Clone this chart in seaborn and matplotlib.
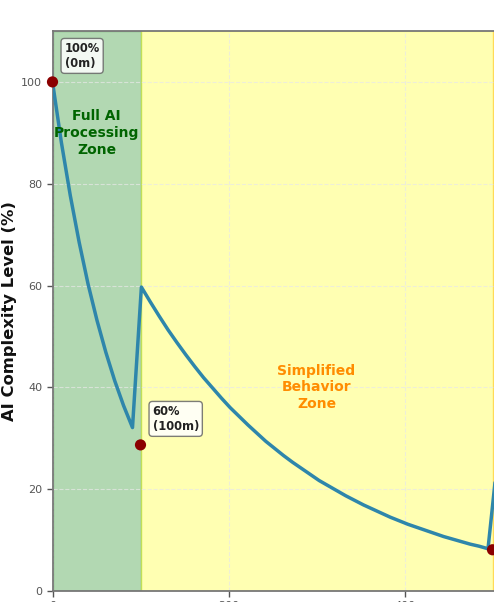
import matplotlib
matplotlib.use("Agg")
import matplotlib.pyplot as plt
import seaborn as sns
import pandas as pd

# ---- data ----
distance_m = [0.0, 10.1, 20.2, 30.3, 40.4, 50.5, 60.6, 70.7, 80.8, 90.9,
              101.0, 111.1, 121.2, 131.3, 141.4, 151.5, 161.6, 171.7, 181.8, 191.9,
              202.0, 212.1, 222.2, 232.3, 242.4, 252.5, 262.6, 272.7, 282.8, 292.9,
              303.0, 313.1, 323.2, 333.3, 343.4, 353.5, 363.6, 373.7, 383.8, 393.9,
              404.0, 414.1, 424.2, 434.3, 444.4, 454.5, 464.6, 474.7, 484.8, 494.9,
              505.1]
complexity_pct = [100.0, 88.1, 77.7, 68.5, 60.3, 53.2, 46.9, 41.3, 36.4, 32.1,
                  59.7, 56.8, 54.0, 51.3, 48.8, 46.4, 44.1, 41.9, 39.9, 37.9,
                  36.0, 34.3, 32.6, 31.0, 29.4, 28.0, 26.6, 25.3, 24.1, 22.9,
                  21.7, 20.7, 19.7, 18.7, 17.8, 16.9, 16.1, 15.3, 14.5, 13.8,
                  13.1, 12.5, 11.9, 11.3, 10.7, 10.2, 9.7, 9.2, 8.8, 8.3,
                  25.0]

marker_x = [0, 100, 500]
marker_y = [100.0, 28.7, 8.1]
marker_labels = ["100%\n(0m)", "60%\n(100m)", ""]

zone_edges = [0, 100, 500, 1000]
zone_colors = ["green", "yellow", "orange"]
zone_texts = ["Full AI\nProcessing\nZone", "Simplified\nBehavior\nZone"]
zone_text_x = [50, 300]
zone_text_y = [90, 40]
zone_text_colors = ["darkgreen", "darkorange"]

y_ticks = [0, 20, 40, 60, 80, 100]
x_ticks = [0, 200, 400, 600, 800, 1000]

# ---- figure ----
sns.set_style("white")
plt.rcParams["font.family"] = ["DejaVu Sans"]

W, H = 494, 602
fig = plt.figure(figsize=(W / 100, H / 100), dpi=100)
left_px, top_px, bottom_px = 52.5, 31, 591
px_per_unit = 0.88
ax_w_px = px_per_unit * (zone_edges[-1] - zone_edges[0])
ax = fig.add_axes([left_px / W, (H - bottom_px) / H, ax_w_px / W, (bottom_px - top_px) / H])

for i, c in enumerate(zone_colors):
    ax.axvspan(zone_edges[i], zone_edges[i + 1], color=c, alpha=0.3, zorder=0)

df = pd.DataFrame({"distance": distance_m, "complexity": complexity_pct})
sns.lineplot(data=df, x="distance", y="complexity", ax=ax, color="#2E86AB",
             linewidth=2.5, sort=False, zorder=3)
sns.scatterplot(x=marker_x, y=marker_y, ax=ax, color="darkred", s=65,
                edgecolor="none", zorder=5, clip_on=False)

for mx, my, lab in zip(marker_x, marker_y, marker_labels):
    if lab:
        ax.annotate(lab, xy=(mx, my), xytext=(12, 12), textcoords="offset pixels",
                    ha="left", va="bottom", fontsize=8.3, fontweight="bold",
                    color="#222222",
                    bbox=dict(boxstyle="round,pad=0.3", facecolor="white",
                              edgecolor="#666666", alpha=0.85, linewidth=1))

for tx, ty, t, c in zip(zone_text_x, zone_text_y, zone_texts, zone_text_colors):
    ax.text(tx, ty, t, ha="center", va="center", fontsize=10, fontweight="bold",
            color=c, linespacing=1.25, zorder=4)

ax.set_xlim(zone_edges[0], zone_edges[-1])
ax.set_ylim(0, 110)
ax.set_yticks(y_ticks)
ax.set_xticks(x_ticks)
ax.tick_params(axis="both", labelsize=8, colors="#555555", length=4, width=1,
               direction="out", left=True, bottom=True)
ax.grid(True, linestyle="--", color="#e8e8e8", alpha=0.7, linewidth=0.8)
for sp in ax.spines.values():
    sp.set_color("#777777")
    sp.set_linewidth(1.3)

ax.set_xlabel("")
ax.set_ylabel("AI Complexity Level (%)", fontsize=11.8, fontweight="bold",
              color="#111111", labelpad=3)

fig.savefig("out.png", dpi=100)
